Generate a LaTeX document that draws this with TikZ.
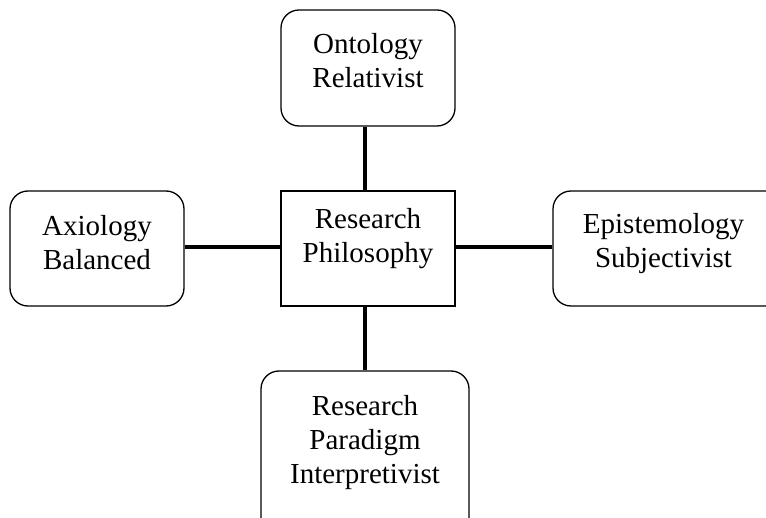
\documentclass[tikz,border=0pt]{standalone}
\usepackage{fontspec}
\setmainfont{Liberation Serif}
\begin{document}
\begin{tikzpicture}[x=1pt,y=-1pt,
  roundbox/.style={draw, line width=1.3pt, rounded corners=18pt, inner sep=0pt},
  corebox/.style={draw, line width=1.3pt, inner sep=0pt},
  txt/.style={font=\fontsize{29}{34}\selectfont, align=center, inner sep=0pt, anchor=north},
  link/.style={line width=4pt}]
\clip (0,0) rectangle (766,518);
\fill[white] (0,0) rectangle (766,518);

% boxes
\node[roundbox, minimum width=174pt, minimum height=116pt] (onto) at (368,68) {};
\node[corebox,  minimum width=174pt, minimum height=115pt] (phil) at (368,248.5) {};
\node[roundbox, minimum width=174pt, minimum height=115pt] (axio) at (97,248.5) {};
\node[roundbox, minimum width=240pt, minimum height=115pt] (epis) at (673,248.5) {};
\node[roundbox, minimum width=208pt, minimum height=170pt] (para) at (365,456) {};

% labels
\node[txt] (ontotxt) at (368,29.2) {Ontology\strut\\Relativist};
\node[txt] (philtxt) at (368,204.2) {Research\strut\\Philosophy};
\node[txt] (axiotxt) at (97,211.2) {Axiology\strut\\Balanced};
\node[txt] (epistxt) at (663.5,209.2) {Epistemology\strut\\Subjectivist};
\node[txt] (paratxt) at (365,391.2) {Research\strut\\Paradigm\\Interpretivist};

% connectors
\draw[link] ([xshift=-3pt]onto.south) -- ([xshift=-3pt]phil.north);
\draw[link] ([xshift=-3pt]phil.south) -- (para.north);
\draw[link] ([yshift=1.5pt]axio.east) -- ([yshift=1.5pt]phil.west);
\draw[link] ([yshift=1.5pt]phil.east) -- ([yshift=1.5pt]epis.west);
\end{tikzpicture}
\end{document}
